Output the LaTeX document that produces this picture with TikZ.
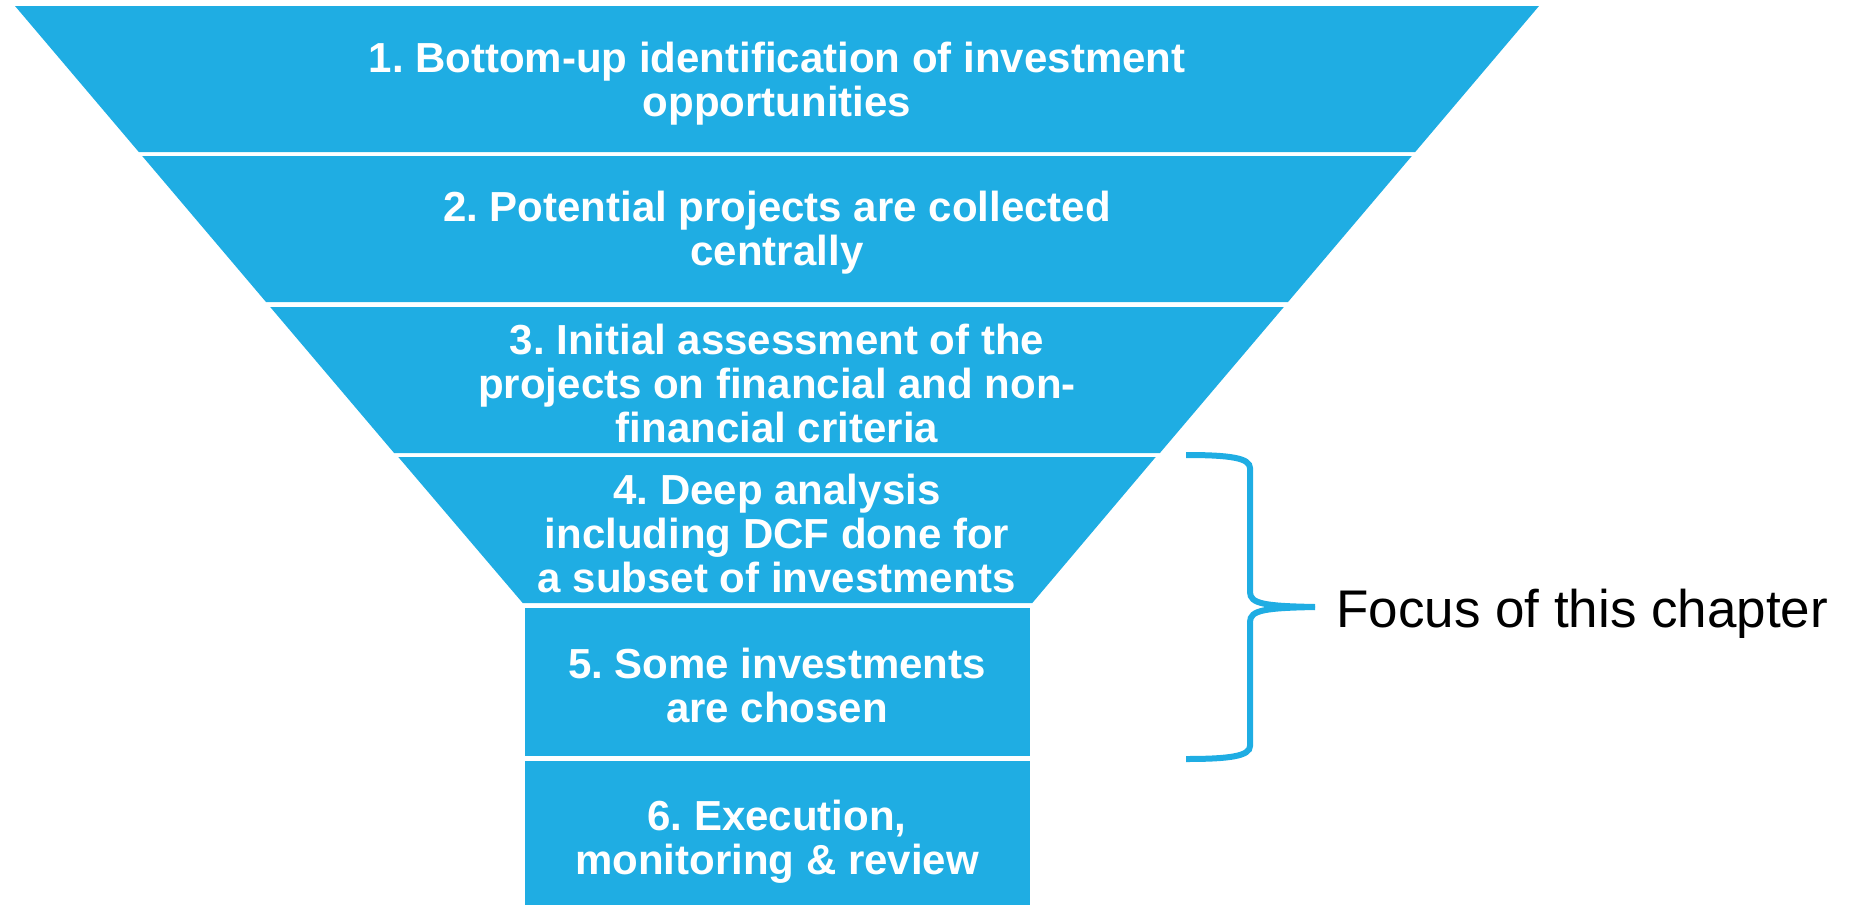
\documentclass[tikz,border=0pt]{standalone}
\usepackage{fontspec}
\setmainfont{Liberation Sans}
\frenchspacing
\definecolor{funnelblue}{HTML}{1FADE3}
\begin{document}
\begin{tikzpicture}[x=1pt,y=-1pt,
  band/.style={fill=funnelblue},
  bandtext/.style={text=white,align=center,inner sep=0pt,
    font=\fontsize{42}{44}\selectfont\bfseries},
  brace/.style={draw=funnelblue,line width=6pt}]
\useasboundingbox (0,0) rectangle (1853,905);

% funnel bands (trapezoids, then two rectangles)
\fill[band] (15,6) -- (1539,6) -- (1415.2,152) -- (138.8,152) -- cycle;
\fill[band] (142.2,156) -- (1411.8,156) -- (1288,302) -- (266,302) -- cycle;
\fill[band] (270.2,307) -- (1283.8,307) -- (1159.9,453) -- (394.1,453) -- cycle;
\fill[band] (398.3,457) -- (1155.7,457) -- (1032.3,603) -- (522.7,603) -- cycle;
\fill[band] (524.5,608) rectangle (1030,756);
\fill[band] (524.5,761) rectangle (1030,905);

% band labels
\node[bandtext] (s1) at (777,84) {1. Bottom-up identification of investment\\opportunities};
\node[bandtext] (s2) at (777,233) {2. Potential projects are collected\\centrally};
\node[bandtext] (s3) at (777,383) {3. Initial assessment of the\\projects on financial and non-\\financial criteria};
\node[bandtext] (s4) at (777,533) {4. Deep analysis\\including DCF done for\\a subset of investments};
\node[bandtext] (s5) at (777,685) {5. Some investments\\are chosen};
\node[bandtext] (s6) at (777,842) {6. Execution,\\monitoring \& review};

% curly brace spanning steps 4 and 5
\coordinate (btop) at (1186,455);
\coordinate (btip) at (1315,607);
\coordinate (bbot) at (1186,759);
\draw[brace] (btop) .. controls (1230,455) and (1250,458) .. (1250,468)
  -- (1250,592) .. controls (1250,604) and (1265,606) .. (btip);
\draw[brace] (btip) .. controls (1265,608) and (1250,610) .. (1250,622)
  -- (1250,746) .. controls (1250,756) and (1230,759) .. (bbot);

\node[anchor=base west,inner sep=0pt,font=\fontsize{53}{60}\selectfont] (focus)
  at (1336,627) {Focus of this chapter};
\end{tikzpicture}
\end{document}
